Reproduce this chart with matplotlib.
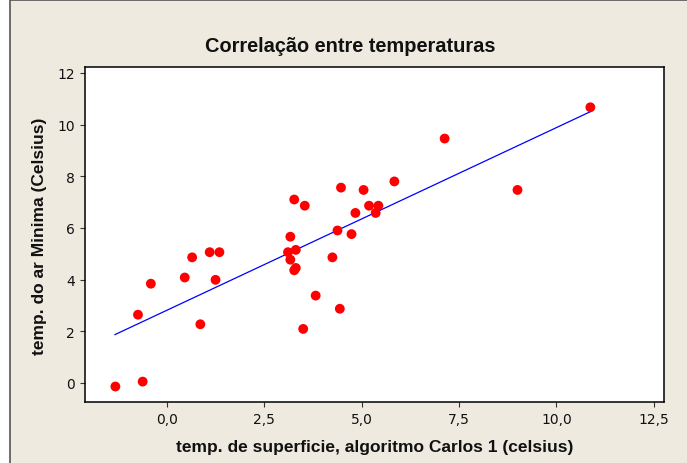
import matplotlib
matplotlib.use("Agg")
import matplotlib.pyplot as plt
from matplotlib.patches import Rectangle
from matplotlib.ticker import FuncFormatter

# ---- data ----
x_surface = [-1.32, -0.62, -0.74, -0.41, 0.46, 0.65, 1.10, 1.35, 1.25, 0.86,
             3.11, 3.17, 3.31, 3.17, 3.31, 3.27, 3.50, 3.82, 4.25, 4.44,
             4.38, 4.74, 4.84, 3.54, 3.27, 5.19, 5.43, 5.36, 4.47, 5.05,
             5.84, 7.13, 9.00, 10.87]
y_air_min = [-0.14, 0.05, 2.64, 3.84, 4.08, 4.86, 5.06, 5.06, 3.99, 2.27,
             5.06, 5.66, 5.15, 4.77, 4.45, 4.36, 2.09, 3.38, 4.86, 2.87,
             5.90, 5.76, 6.58, 6.86, 7.10, 6.86, 6.86, 6.58, 7.56, 7.47,
             7.80, 9.46, 7.47, 10.67]
fit_x = [-1.33, 10.87]
fit_y = [1.87, 10.50]
x_ticks = [0.0, 2.5, 5.0, 7.5, 10.0, 12.5]
y_ticks = [0, 2, 4, 6, 8, 10, 12]

title = "Correlação entre temperaturas"
xlabel = "temp. de superficie, algoritmo Carlos 1 (celsius)"
ylabel = "temp. do ar Minima (Celsius)"

W, H = 687, 464
BEIGE = "#EEEAE0"

fig = plt.figure(figsize=(W / 100, H / 100), dpi=100, facecolor="white")
# beige panel with dark border at left and top
bg = Rectangle((10 / W, -0.05), 1.1, 1.05 - 1 / H,
               transform=fig.transFigure, facecolor=BEIGE,
               edgecolor="#555555", linewidth=1.2, zorder=-10)
fig.add_artist(bg)

ax = fig.add_axes([85 / W, 1 - 403 / H, (664 - 85) / W, (403 - 68) / H])
ax.set_facecolor("white")
ax.set_zorder(1)

ax.plot(fit_x, fit_y, color="#0000FF", linewidth=0.9, zorder=2)
ax.scatter(x_surface, y_air_min, s=50, color="#FF0000", edgecolors="none", zorder=3)

ax.set_xlim(-2.10, 12.76)
ax.set_ylim(-0.74, 12.23)
ax.set_xticks(x_ticks)
ax.set_yticks(y_ticks)
ax.xaxis.set_major_formatter(FuncFormatter(lambda v, p: f"{v:.1f}".replace(".", ",")))
ax.yaxis.set_major_formatter(FuncFormatter(lambda v, p: f"{int(round(v))}"))
ax.tick_params(direction="out", length=3.5, width=0.8, color="#333333",
               labelsize=10, pad=4, labelcolor="#111111")
for lab in ax.get_xticklabels() + ax.get_yticklabels():
    lab.set_family("DejaVu Sans")
for s in ax.spines.values():
    s.set_linewidth(1.1)
    s.set_color("black")

fig.text(350 / W, 1 - 47 / H, title, ha="center", va="center",
         fontsize=14.4, fontweight="bold", family="Liberation Sans", color="#111111")
fig.text(374.5 / W, 1 - 448 / H, xlabel, ha="center", va="center",
         fontsize=12.5, fontweight="bold", family="Liberation Sans", color="#111111")
fig.text(40 / W, 1 - 236 / H, ylabel, ha="center", va="center", rotation=90,
         fontsize=12.5, fontweight="bold", family="Liberation Sans", color="#111111")

fig.savefig("out.png", dpi=100, facecolor=fig.get_facecolor())
